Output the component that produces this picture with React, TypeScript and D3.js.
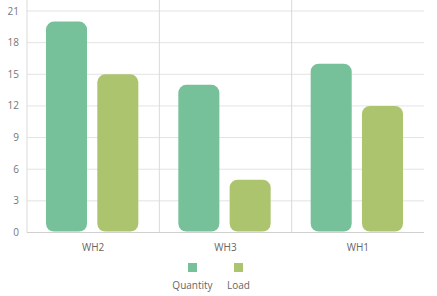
import React from "react";
import * as d3 from "d3";

const categories = ["WH2", "WH3", "WH1"];
const seriesNames = ["Quantity", "Load"];
const quantity = [20, 14, 16];
const load = [15, 5, 12];
const yTicks = [0, 3, 6, 9, 12, 15, 18, 21];
const colors = ["#76C09A", "#ADC46F"];

const W = 437, H = 296;
const left = 27, right = 424, top = 11, bottom = 232.5;

export default function App() {
  const x = d3.scaleBand<string>().domain(categories).range([left, right]);
  const y = d3.scaleLinear().domain([0, 21]).range([bottom, top]);
  const inner = d3.scaleBand<string>().domain(seriesNames).range([19, x.bandwidth() - 21]).paddingInner(0.2);
  const series = [quantity, load];
  const font = "'Open Sans', 'Noto Sans', sans-serif";
  return (
    <svg width={W} height={H} style={{ position: "absolute", left: 0, top: 0 }} fontFamily={font}>
      <rect width={W} height={H} fill="#fff" />
      {yTicks.map((t) => (
        <g key={t}>
          <line x1={left} x2={right} y1={y(t)} y2={y(t)} stroke={t === 0 ? "#d0d0d0" : "#e3e3e3"} strokeWidth={1} />
          <text x={19} y={y(t)} dy="0.35em" textAnchor="end" fontSize={10} fill="#777">{t}</text>
        </g>
      ))}
      <line x1={left} x2={left} y1={0} y2={bottom} stroke="#dadada" />
      {categories.slice(1).map((c) => (
        <line key={c} x1={x(c)!} x2={x(c)!} y1={0} y2={bottom} stroke="#dadada" />
      ))}
      {categories.map((c, i) => (
        <g key={c}>
          {series.map((s, j) => {
            const bx = x(c)! + inner(seriesNames[j])!;
            return (
              <rect key={j} x={bx} y={y(s[i])} width={inner.bandwidth()} height={bottom - 1 - y(s[i])} rx={8} ry={8} fill={colors[j]} />
            );
          })}
          <text x={x(c)! + x.bandwidth() / 2} y={247} dy="0.35em" textAnchor="middle" fontSize={10} fill="#666">{c}</text>
        </g>
      ))}
      {seriesNames.map((n, j) => {
        const cx = j === 0 ? 192.5 : 238.5;
        return (
          <g key={n}>
            <rect x={cx - 4.5} y={263} width={9} height={9} fill={colors[j]} />
            <text x={cx} y={285} dy="0.35em" textAnchor="middle" fontSize={10} fill="#666">{n}</text>
          </g>
        );
      })}
    </svg>
  );
}
